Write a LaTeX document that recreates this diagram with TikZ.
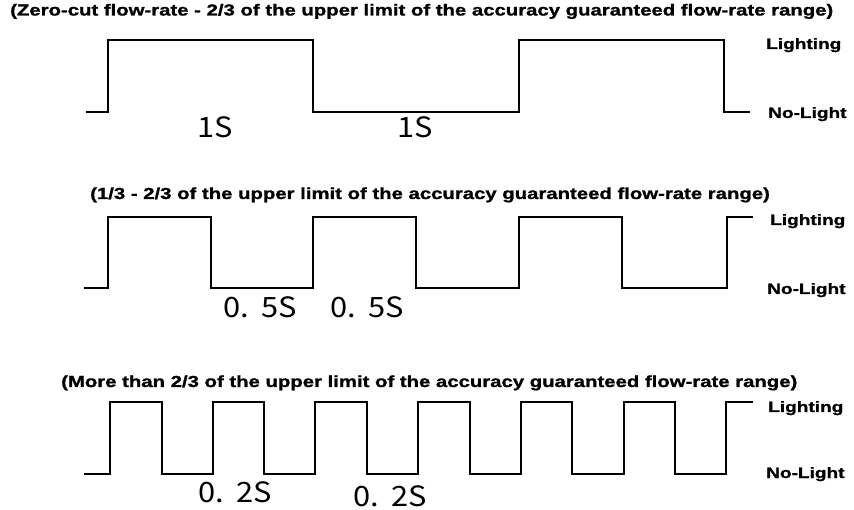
\documentclass[tikz,border=0pt]{standalone}
\usepackage{fontspec}
\setmainfont{Liberation Sans}
\newfontfamily\widefont[FakeStretch=1.27,BoldFeatures={FakeBold=1.2}]{Liberation Sans}
\newfontfamily\gothic[FakeStretch=1.1,WordSpace=1.5]{Noto Sans CJK JP}
\tikzset{
  wave/.style={draw=black, line width=2pt, line join=miter},
  heading/.style={font=\widefont\fontsize{16}{19}\selectfont\bfseries,
    anchor=base west, inner sep=0pt},
  level/.style={font=\widefont\fontsize{15}{18}\selectfont\bfseries,
    anchor=base west, inner sep=0pt},
  span/.style={font=\gothic\fontsize{28}{31}\selectfont,
    anchor=base west, inner sep=0pt}
}
\begin{document}
\begin{tikzpicture}[x=1pt, y=-1pt]
  \useasboundingbox[fill=white] (0,0) rectangle (854,510);

  % slow blinking
  \node[heading] (t1) at (10,15.5) {(Zero-cut flow-rate - 2/3 of the upper limit of the accuracy guaranteed flow-rate range)};
  \draw[wave] (86,112) -- (108,112) -- (108,40) -- (313,40) -- (313,112)
    -- (519,112) -- (519,40) -- (724,40) -- (724,112) -- (750,112);
  \node[level] (on1) at (766,49) {Lighting};
  \node[level] (off1) at (768,118) {No-Light};
  \node[span] (s1a) at (197,138) {1S};
  \node[span] (s1b) at (397,138) {1S};

  % medium blinking
  \node[heading] (t2) at (90,199) {(1/3 - 2/3 of the upper limit of the accuracy guaranteed flow-rate range)};
  \draw[wave] (84,288) -- (108,288) -- (108,217) -- (211,217) -- (211,288)
    -- (313,288) -- (313,217) -- (416,217) -- (416,288)
    -- (519,288) -- (519,217) -- (622,217) -- (622,288)
    -- (727,288) -- (727,217) -- (753,217);
  \node[level] (on2) at (770,225) {Lighting};
  \node[level] (off2) at (767,294) {No-Light};
  \node[span] (s2a) at (223,318) {0. 5S};
  \node[span] (s2b) at (330,318) {0. 5S};

  % fast blinking
  \node[heading] (t3) at (61,387) {(More than 2/3 of the upper limit of the accuracy guaranteed flow-rate range)};
  \draw[wave] (84,474)
    foreach \i in {0,...,5} {
      -- (110+102.7*\i,474) -- (110+102.7*\i,402)
      -- (161.5+102.7*\i,402) -- (161.5+102.7*\i,474)
    }
    -- (726,474) -- (726,402) -- (753,402);
  \node[level] (on3) at (768,412) {Lighting};
  \node[level] (off3) at (766,478) {No-Light};
  \node[span] (s3a) at (198,502.5) {0. 2S};
  \node[span] (s3b) at (353,506.5) {0. 2S};
\end{tikzpicture}
\end{document}
